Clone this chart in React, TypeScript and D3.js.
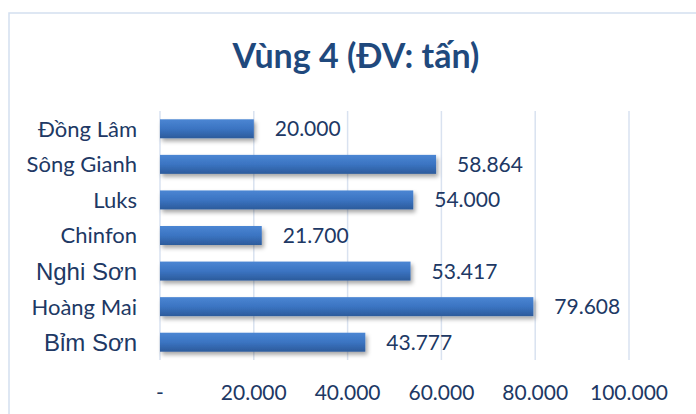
import React, { useEffect, useRef } from 'react'
import * as d3 from 'd3'

// data (bottom to top in the source sheet)
const categories = ['Đồng Lâm', 'Sông Gianh', 'Luks', 'Chinfon', 'Nghi Sơn', 'Hoàng Mai', 'Bỉm Sơn']
const values = [20000, 58864, 54000, 21700, 53417, 79608, 43777]
const xTicks = [0, 20000, 40000, 60000, 80000, 100000]
// these two labels were typed in a different font in the source
const arialLabels = ['Nghi Sơn', 'Bỉm Sơn']

const title = 'Vùng 4 (ĐV: tấn)'

const textColor = '#203864'
const gridColor = '#d9e2f0'

// 20000 -> "20.000", 0 -> "-"
const fmt = (v: number) => (v === 0 ? '-' : d3.format(',')(v).replace(/,/g, '.'))

export default function App() {
  const ref = useRef<SVGSVGElement>(null)

  useEffect(() => {
    const svg = d3.select(ref.current)
    svg.selectAll('*').remove()

    const width = 696
    const height = 414

    const x = d3.scaleLinear().domain([0, 100000]).range([160, 629])
    const y = d3.scaleBand().domain(categories).range([111, 360]).paddingInner(0.466).paddingOuter(0.233)

    const defs = svg.append('defs')
    const grad = defs.append('linearGradient').attr('id', 'barGrad').attr('x1', 0).attr('y1', 0).attr('x2', 0).attr('y2', 1)
    grad.append('stop').attr('offset', '0%').attr('stop-color', '#4b86d3')
    grad.append('stop').attr('offset', '50%').attr('stop-color', '#3b74c2')
    grad.append('stop').attr('offset', '100%').attr('stop-color', '#2c5b9b')

    const filter = defs.append('filter').attr('id', 'shadow').attr('x', '-10%').attr('y', '-30%').attr('width', '130%').attr('height', '190%')
    filter.append('feDropShadow')
      .attr('dx', 2).attr('dy', 3).attr('stdDeviation', 2)
      .attr('flood-color', '#000').attr('flood-opacity', 0.35)

    svg.append('rect').attr('width', width).attr('height', height).attr('fill', '#fff')

    // outer chart frame (runs off the right and bottom edge)
    svg.append('rect')
      .attr('x', 9).attr('y', 13)
      .attr('width', width + 10).attr('height', height + 10)
      .attr('fill', 'none').attr('stroke', '#d3dff0').attr('stroke-width', 1.5)

    svg.append('text')
      .attr('x', 356).attr('y', 68)
      .attr('text-anchor', 'middle')
      .attr('font-family', 'Lato, sans-serif')
      .attr('font-weight', 'bold')
      .attr('font-size', 34)
      .attr('fill', '#1f497d')
      .text(title)

    // gridlines
    svg.append('g').selectAll('line')
      .data(xTicks)
      .enter().append('line')
        .attr('x1', d => x(d)).attr('x2', d => x(d))
        .attr('y1', 111).attr('y2', 360)
        .attr('stroke', gridColor).attr('stroke-width', 1.5)

    // tick labels
    svg.append('g').selectAll('text')
      .data(xTicks)
      .enter().append('text')
        .attr('x', d => x(d)).attr('y', 400)
        .attr('text-anchor', 'middle')
        .attr('font-family', 'Lato, sans-serif')
        .attr('font-size', 21)
        .attr('fill', textColor)
        .text(d => fmt(d))

    const data = categories.map((c, i) => ({ c, v: values[i] }))

    // bars
    svg.append('g').selectAll('rect')
      .data(data)
      .enter().append('rect')
        .attr('x', x(0))
        .attr('y', d => y(d.c) as number)
        .attr('width', d => x(d.v) - x(0))
        .attr('height', y.bandwidth())
        .attr('fill', 'url(#barGrad)')
        .attr('filter', 'url(#shadow)')

    // value labels
    svg.append('g').selectAll('text')
      .data(data)
      .enter().append('text')
        .attr('x', d => x(d.v) + 21)
        .attr('y', d => (y(d.c) as number) + y.bandwidth() / 2)
        .attr('dy', '0.36em')
        .attr('font-family', 'Lato, sans-serif')
        .attr('font-size', 21)
        .attr('fill', textColor)
        .text(d => fmt(d.v))

    // category labels
    svg.append('g').selectAll('text')
      .data(data)
      .enter().append('text')
        .attr('x', 137)
        .attr('y', d => (y(d.c) as number) + y.bandwidth() / 2)
        .attr('dy', '0.36em')
        .attr('text-anchor', 'end')
        .attr('font-family', d => arialLabels.includes(d.c) ? '"Liberation Sans", Arial, sans-serif' : 'Lato, sans-serif')
        .attr('font-size', d => arialLabels.includes(d.c) ? 24 : 22)
        .attr('fill', textColor)
        .text(d => d.c)
  }, [])

  return (
    <svg ref={ref} width={696} height={414} style={{ position: 'absolute', left: 0, top: 0 }} />
  )
}
